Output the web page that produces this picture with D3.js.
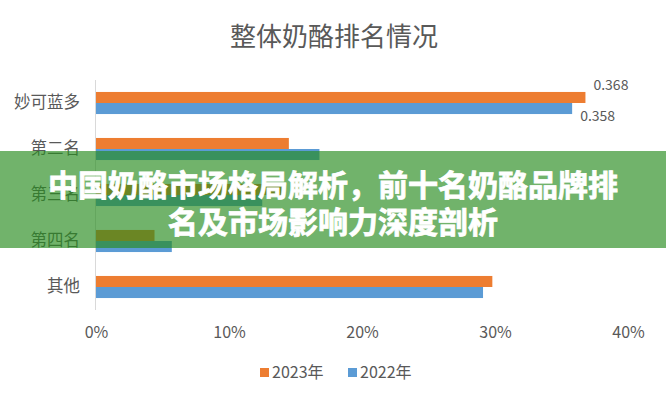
<!DOCTYPE html>
<html>
<head>
<meta charset="utf-8">
<script src="https://cdn.jsdelivr.net/npm/d3@7/dist/d3.min.js"></script>
<style>
  html, body { margin: 0; padding: 0; background: #fff; }
  svg { display: block; }
  text { font-family: "Noto Sans CJK SC", "Noto Sans", sans-serif; }
</style>
</head>
<body>
<svg id="chart" width="666" height="400"></svg>
<script>
// Brands, top to bottom
const categories = ["妙可蓝多", "第二名", "第三名", "第四名", "其他"];
// Market share by year
const series2023 = [0.368, 0.145, 0.140, 0.044, 0.298];
const series2022 = [0.358, 0.168, 0.125, 0.057, 0.291];
const seriesNames = ["2023年", "2022年"];
const seriesColors = ["#ED7D31", "#5B9BD5"];
const tickValues = [0, 0.1, 0.2, 0.3, 0.4];
const chartTitle = "整体奶酪排名情况";
const bannerLines = ["中国奶酪市场格局解析，前十名奶酪品牌排", "名及市场影响力深度剖析"];

const svg = d3.select("#chart");
const W = 666, H = 400;
svg.append("rect").attr("width", W).attr("height", H).attr("fill", "#fff");

const x = d3.scaleLinear().domain([0, 0.4]).range([96, 628]);
const y = d3.scaleBand().domain(categories).range([80, 310])
  .paddingInner(0.52).paddingOuter(0.26);
const ySub = d3.scaleBand().domain(seriesNames).range([0, y.bandwidth()]);

// Title
svg.append("text")
  .attr("x", 334).attr("y", 46)
  .attr("text-anchor", "middle")
  .attr("font-size", 26)
  .attr("fill", "#595959")
  .text(chartTitle);

// Bars
const data = [series2023, series2022];
const rows = categories.map((c, i) => ({ c, vals: data.map((s, k) => ({ name: seriesNames[k], v: s[i], k })) }));

const g = svg.append("g");
const rowG = g.selectAll("g.row").data(rows).join("g")
  .attr("class", "row")
  .attr("transform", d => `translate(0,${y(d.c)})`);

rowG.selectAll("rect").data(d => d.vals).join("rect")
  .attr("x", x(0))
  .attr("y", d => ySub(d.name))
  .attr("width", d => x(d.v) - x(0))
  .attr("height", ySub.bandwidth())
  .attr("fill", d => seriesColors[d.k]);

// Value labels for the leading brand
const lead = rows[0];
lead.vals.forEach(d => {
  const top = y(lead.c) + ySub(d.name);
  svg.append("text")
    .attr("x", x(d.v) + 8)
    .attr("y", d.k === 0 ? top - 2 : top + ySub.bandwidth() + 7)
    .attr("font-size", 14)
    .attr("fill", "#595959")
    .text(d3.format(".3f")(d.v));
});

// Vertical axis line and category labels
svg.append("line")
  .attr("x1", x(0) - 0.5).attr("x2", x(0) - 0.5)
  .attr("y1", 80).attr("y2", 310)
  .attr("stroke", "#d9d9d9").attr("stroke-width", 1);

const yAxis = d3.axisLeft(y).tickSize(0).tickPadding(16);
const yg = svg.append("g").attr("transform", `translate(${x(0)},0)`).call(yAxis);
yg.select(".domain").remove();
yg.selectAll("text").attr("font-size", 16.5).attr("fill", "#595959")
  .attr("font-family", "'Noto Sans CJK SC', sans-serif");

// Horizontal axis tick labels
const xAxis = d3.axisBottom(x).tickValues(tickValues).tickFormat(d3.format(".0%")).tickSize(0).tickPadding(0);
const xg = svg.append("g").attr("transform", "translate(0,338)").call(xAxis);
xg.select(".domain").remove();
xg.selectAll("text").attr("font-size", 16).attr("fill", "#595959").attr("dy", 0)
  .attr("font-family", "'Noto Sans CJK SC', sans-serif");

// Legend
const legend = svg.append("g");
const legendX = [260, 348];
seriesNames.forEach((n, k) => {
  legend.append("rect").attr("x", legendX[k]).attr("y", 368)
    .attr("width", 9).attr("height", 9).attr("fill", seriesColors[k]);
  legend.append("text").attr("x", legendX[k] + 12).attr("y", 378)
    .attr("font-size", 16).attr("fill", "#595959").text(n);
});

// Headline banner
svg.append("rect")
  .attr("x", 0).attr("y", 151).attr("width", W).attr("height", 97)
  .attr("fill", "rgb(40,140,30)").attr("fill-opacity", 0.66);

bannerLines.forEach((t, i) => {
  svg.append("text")
    .attr("x", 333).attr("y", 183 + i * 37)
    .attr("text-anchor", "middle")
    .attr("dominant-baseline", "central")
    .attr("font-size", 30)
    .attr("font-weight", 700)
    .attr("fill", "#fff")
    .style("paint-order", "stroke")
    .attr("stroke", "#fff")
    .attr("stroke-width", 0.8)
    .text(t);
});
</script>
</body>
</html>
